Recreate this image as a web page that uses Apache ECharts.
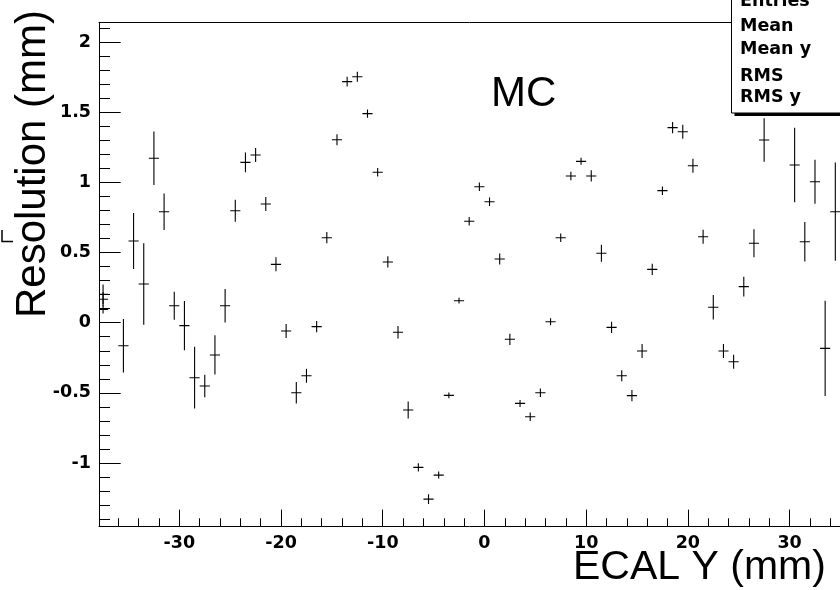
<!DOCTYPE html>
<html><head><meta charset="utf-8">
<script src="https://cdn.jsdelivr.net/npm/echarts@6/dist/echarts.min.js"></script>
<style>html,body{margin:0;padding:0;background:#fff}#c{width:840px;height:590px}</style>
</head><body><div id="c"></div>
<script>
// ---- data ----
const binCenters = [-37.5, -37.5, -37.5, -35.5, -34.5, -33.5, -32.5, -31.5, -30.5, -29.5, -28.5, -27.5, -26.5, -25.5,
  -24.5, -23.5, -22.5, -21.5, -20.5, -19.5, -18.5, -17.5, -16.5, -15.5, -14.5, -13.5, -12.5, -11.5, -10.5,
  -9.5, -8.5, -7.5, -6.5, -5.5, -4.5, -3.5, -2.5, -1.5, -0.5, 0.5, 1.5, 2.5, 3.5, 4.5, 5.5, 6.5, 7.5, 8.5,
  9.5, 10.5, 11.5, 12.5, 13.5, 14.5, 15.5, 16.5, 17.5, 18.5, 19.5, 20.5, 21.5, 22.5, 23.5, 24.5, 25.5,
  26.5, 27.5, 30.5, 31.5, 32.5, 33.5, 34.5];
const resolution = [0.202, 0.167, 0.095, -0.164, 0.582, 0.276, 1.172, 0.791, 0.121, -0.021, -0.392, -0.451, -0.230, 0.121,
  0.798, 1.143, 1.195, 0.846, 0.416, -0.059, -0.499, -0.378, -0.028, 0.606, 1.304, 1.718, 1.753, 1.490, 1.072,
  0.433, -0.068, -0.622, -1.031, -1.257, -1.086, -0.518, 0.157, 0.723, 0.969, 0.862, 0.454, -0.118, -0.575, -0.670, -0.499, 0.007, 0.606, 1.046,
  1.150, 1.046, 0.495, -0.033, -0.378, -0.520, -0.202, 0.380, 0.941, 1.390, 1.361, 1.119, 0.613, 0.110, -0.202, -0.278, 0.257,
  0.566, 1.302, 1.124, 0.577, 1.005, -0.183, 0.791];
const resolutionErr = [0.07, 0.05, 0.03, 0.19, 0.20, 0.29, 0.19, 0.13, 0.10, 0.175, 0.22, 0.08, 0.14, 0.12,
  0.078, 0.07, 0.05, 0.05, 0.05, 0.05, 0.077, 0.05, 0.04, 0.04, 0.04, 0.035, 0.035, 0.03, 0.03,
  0.04, 0.045, 0.06, 0.03, 0.035, 0.025, 0.02, 0.02, 0.03, 0.03, 0.03, 0.04, 0.04, 0.025, 0.03, 0.03, 0.025, 0.03, 0.03,
  0.025, 0.04, 0.06, 0.04, 0.04, 0.04, 0.05, 0.04, 0.03, 0.04, 0.05, 0.05, 0.05, 0.087, 0.05, 0.05, 0.07,
  0.10, 0.155, 0.265, 0.14, 0.157, 0.34, 0.35];
const binHalfWidth = 0.5;
const xMajorTicks = [-30, -20, -10, 0, 10, 20, 30];
const xMinorTicks = [-36, -34, -32, -28, -26, -24, -22, -18, -16, -14, -12, -8, -6, -4, -2, 2, 4, 6, 8, 12, 14, 16, 18, 22, 24, 26, 28, 32, 34];
const yMajorTicks = [-1, -0.5, 0, 0.5, 1, 1.5, 2];
const yMinorTicks = [-1.4, -1.3, -1.2, -1.1, -0.9, -0.8, -0.7, -0.6, -0.4, -0.3, -0.2, -0.1, 0.1, 0.2, 0.3, 0.4,
  0.6, 0.7, 0.8, 0.9, 1.1, 1.2, 1.3, 1.4, 1.6, 1.7, 1.8, 1.9, 2.1];
const statsLabels = ['Entries', 'Mean', 'Mean y', 'RMS', 'RMS y'];
const xTitle = 'ECAL Y (mm)';
const yTitle = 'Resolution (mm)';
const plotLabel = 'MC';

// ---- chart ----
const chart = echarts.init(document.getElementById('c'), null, {renderer: 'canvas'});
const tickFont = {fontFamily: 'DejaVu Sans', fontWeight: 'bold', fontSize: 17.5, color: '#000'};
const xMin = -37.9, xMax = 34.96, yMin = -1.451, yMax = 2.141;

const baseX = {type: 'value', min: xMin, max: xMax, gridIndex: 0, position: 'bottom', splitLine: {show: false}};
const baseY = {type: 'value', min: yMin, max: yMax, gridIndex: 0, position: 'left', splitLine: {show: false}};

const statsTextY = [1.8, 26.8, 49.4, 76.1, 97.8];

chart.setOption({
  animation: false,
  backgroundColor: '#fff',
  grid: {left: 99, top: 22.3, right: 0, height: 504, show: false},
  xAxis: [
    Object.assign({}, baseX, {
      axisLine: {show: true, onZero: false, lineStyle: {color: '#000', width: 1}},
      axisTick: {show: true, inside: true, length: 16.7, customValues: xMajorTicks, lineStyle: {color: '#000', width: 1}},
      axisLabel: {show: true, customValues: xMajorTicks, margin: 8, ...tickFont}
    }),
    Object.assign({}, baseX, {
      axisLine: {show: false, onZero: false},
      axisTick: {show: true, inside: true, length: 8, customValues: xMinorTicks, lineStyle: {color: '#000', width: 1}},
      axisLabel: {show: false}
    }),
    Object.assign({}, baseX, {
      position: 'top',
      axisLine: {show: true, onZero: false, lineStyle: {color: '#000', width: 1}},
      axisTick: {show: false},
      axisLabel: {show: false}
    })
  ],
  yAxis: [
    Object.assign({}, baseY, {
      axisLine: {show: true, onZero: false, lineStyle: {color: '#000', width: 1}},
      axisTick: {show: true, inside: true, length: 21.7, customValues: yMajorTicks, lineStyle: {color: '#000', width: 1}},
      axisLabel: {show: true, customValues: yMajorTicks, margin: 8, ...tickFont}
    }),
    Object.assign({}, baseY, {
      axisLine: {show: false, onZero: false},
      axisTick: {show: true, inside: true, length: 11, customValues: yMinorTicks, lineStyle: {color: '#000', width: 1}},
      axisLabel: {show: false}
    })
  ],
  series: [{
    type: 'custom',
    xAxisIndex: 0, yAxisIndex: 0,
    clip: true,
    encode: {x: 0, y: 1},
    data: binCenters.map((x, i) => [x, resolution[i], resolutionErr[i]]),
    renderItem: function (params, api) {
      const x = api.value(0), y = api.value(1), e = api.value(2);
      const pL = api.coord([x - binHalfWidth, y]), pR = api.coord([x + binHalfWidth, y]);
      const pT = api.coord([x, y + e]), pB = api.coord([x, y - e]);
      const st = {stroke: '#000', lineWidth: 1.1, fill: null};
      return {type: 'group', children: [
        {type: 'line', shape: {x1: pL[0], y1: pL[1], x2: pR[0], y2: pR[1]}, style: st},
        {type: 'line', shape: {x1: pT[0], y1: pT[1], x2: pB[0], y2: pB[1]}, style: st}
      ]};
    }
  }],
  graphic: [
    {type: 'rect', z: 100, shape: {x: 734.5, y: 110, width: 120, height: 6}, style: {fill: '#000'}},
    {type: 'rect', z: 101, shape: {x: 731.5, y: -5, width: 120, height: 118}, style: {fill: '#fff', stroke: '#000', lineWidth: 1}},
    ...statsLabels.map((t, i) => ({
      type: 'text', z: 102, x: 740, y: statsTextY[i],
      style: {text: t, fill: '#000', font: 'bold 17.5px "DejaVu Sans"', textAlign: 'left', textVerticalAlign: 'middle'}
    })),
    {type: 'text', z: 50, x: 491, y: 94.5,
      style: {text: plotLabel, fill: '#000', font: '42px "Liberation Sans", Arial, sans-serif', textAlign: 'left', textVerticalAlign: 'middle'}},
    {type: 'text', z: 50, x: 573, y: 567.3,
      style: {text: xTitle, fill: '#000', font: '41px "Liberation Sans", Arial, sans-serif', textAlign: 'left', textVerticalAlign: 'middle'}},
    {type: 'text', z: 50, x: 33.5, y: 164, rotation: Math.PI / 2,
      style: {text: yTitle, fill: '#000', font: '42px "Liberation Sans", Arial, sans-serif', textAlign: 'center', textVerticalAlign: 'middle'}},
    {type: 'polyline', z: 50, shape: {points: [[2, 230], [2, 241.5], [13, 241.5]]}, style: {stroke: '#000', lineWidth: 1.5, fill: null}}
  ]
});
</script></body></html>
